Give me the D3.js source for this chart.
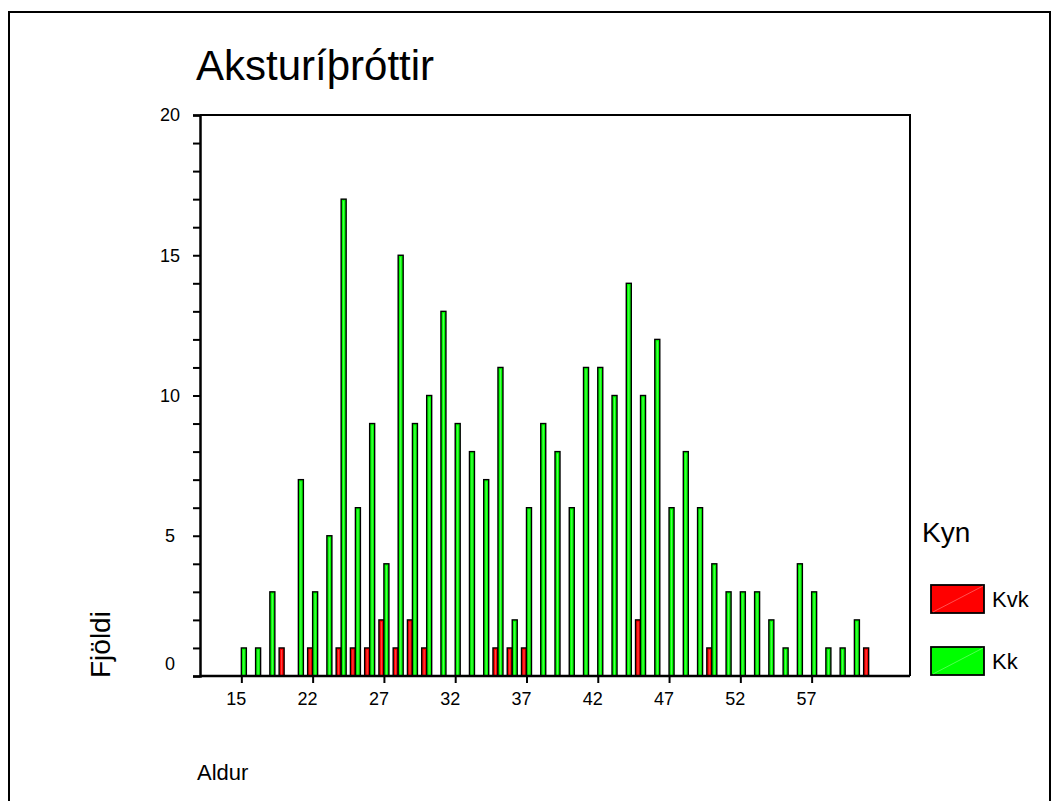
<!DOCTYPE html>
<html>
<head>
<meta charset="utf-8">
<script src="https://cdn.jsdelivr.net/npm/d3@7"></script>
<style>
  html, body { margin: 0; padding: 0; background: #fff; }
  svg { display: block; font-family: "Liberation Sans", Arial, sans-serif; }
</style>
</head>
<body>
<svg id="chart" width="1058" height="801"></svg>
<script>
// Ages (x categories) and counts per sex
const ages = [15, 17, 18, 19, 20,
  22, 23, 24, 25, 26, 27, 28, 29, 30, 31, 32, 33, 34, 35, 36, 37, 38, 39, 40, 41,
  42, 43, 44, 45, 46, 47, 48, 49, 50, 51, 52, 53, 54, 55, 56, 57, 58, 59, 60, 61];
const kvk = [0, 0, 0, 1, 0,
  1, 0, 1, 1, 1, 2, 1, 2, 1, 0, 0, 0, 0, 1, 1, 1, 0, 0, 0, 0,
  0, 0, 0, 2, 0, 0, 0, 0, 1, 0, 0, 0, 0, 0, 0, 0, 0, 0, 0, 1];
const kk = [1, 1, 3, 0, 7,
  3, 5, 17, 6, 9, 4, 15, 9, 10, 13, 9, 8, 7, 11, 2, 6, 9, 8, 6, 11,
  11, 10, 14, 10, 12, 6, 8, 6, 4, 3, 3, 3, 2, 1, 4, 3, 1, 1, 2, 0];
const xTickLabels = [15, 22, 27, 32, 37, 42, 47, 52, 57];
const yTicks = [0, 1, 2, 3, 4, 5, 6, 7, 8, 9, 10, 11, 12, 13, 14, 15, 16, 17, 18, 19, 20];
const yTickLabels = [0, 5, 10, 15, 20];
const seriesNames = ["Kvk", "Kk"];
const seriesColors = ["#ff0000", "#00ff00"];
const highlightColors = ["#ff6a6a", "#7dff7d"];

const svg = d3.select("#chart");

// Outer frame
svg.append("path")
  .attr("d", "M9,801 V12 H1050 V801")
  .attr("fill", "none").attr("stroke", "#000").attr("stroke-width", 2);

const plotLeft = 200, plotRight = 910, plotTop = 115, plotBottom = 676;

const x = d3.scalePoint().domain(ages).range([plotLeft, plotRight]).padding(2.9);
const sub = d3.scaleBand().domain(seriesNames).range([-5, 5]);
const y = d3.scaleLinear().domain([0, 20]).range([plotBottom, plotTop]);

// Title
svg.append("text").attr("x", 196).attr("y", 80)
  .attr("font-size", 42).text("Aksturíþróttir");

// Bars
const rows = [];
ages.forEach((a, i) => {
  [kvk[i], kk[i]].forEach((v, s) => {
    if (v > 0) rows.push({ age: a, s, v });
  });
});

const bars = svg.append("g");
bars.selectAll("rect").data(rows).join("rect")
  .attr("x", d => x(d.age) + sub(seriesNames[d.s]))
  .attr("y", d => y(d.v))
  .attr("width", sub.bandwidth())
  .attr("height", d => y(0) - y(d.v))
  .attr("fill", d => seriesColors[d.s])
  .attr("stroke", "#000").attr("stroke-width", 1.4);
bars.selectAll("line").data(rows).join("line")
  .attr("x1", d => x(d.age) + sub(seriesNames[d.s]) + sub.bandwidth() / 2)
  .attr("x2", d => x(d.age) + sub(seriesNames[d.s]) + sub.bandwidth() / 2)
  .attr("y1", d => y(d.v) + 2).attr("y2", y(0) - 1)
  .attr("stroke", d => highlightColors[d.s]).attr("stroke-width", 0.7);

// Plot frame (top and right)
svg.append("path")
  .attr("d", `M${plotLeft},${plotTop} H${plotRight} V${plotBottom}`)
  .attr("fill", "none").attr("stroke", "#000").attr("stroke-width", 2);

// Y axis
const yAxis = d3.axisLeft(y).tickValues(yTicks).tickSize(7).tickFormat("");
const gy = svg.append("g").attr("transform", `translate(${plotLeft},0)`).call(yAxis);
gy.select(".domain").attr("stroke-width", 2.5);
gy.selectAll(".tick line").attr("stroke-width", 2);
svg.append("g").selectAll("text").data(yTickLabels).join("text")
  .attr("x", 170)
  .attr("y", d => y(d) + (d === 0 ? -12 : 0))
  .attr("dy", "0.35em")
  .attr("text-anchor", "middle")
  .attr("font-size", 18)
  .text(d => d);

// X axis
const xAxis = d3.axisBottom(x).tickValues(xTickLabels).tickSize(7).tickSizeOuter(0).tickFormat("");
const gx = svg.append("g").attr("transform", `translate(0,${plotBottom})`).call(xAxis);
gx.select(".domain").attr("d", `M${plotLeft},0H${plotRight}`).attr("stroke-width", 2.5);
gx.selectAll(".tick line").attr("stroke-width", 2);
svg.append("g").selectAll("text").data(xTickLabels).join("text")
  .attr("x", d => x(d) - 5)
  .attr("y", 705)
  .attr("text-anchor", "middle")
  .attr("font-size", 18)
  .text(d => d);

// Axis titles
svg.append("text").attr("transform", "translate(110,678) rotate(-90)")
  .attr("font-size", 28).text("Fjöldi");
svg.append("text").attr("x", 197).attr("y", 780)
  .attr("font-size", 22).text("Aldur");

// Legend
svg.append("text").attr("x", 922).attr("y", 542).attr("font-size", 28).text("Kyn");
const legY = [585, 647];
seriesNames.forEach((name, s) => {
  const g = svg.append("g");
  g.append("rect").attr("x", 931).attr("y", legY[s]).attr("width", 53).attr("height", 28)
    .attr("fill", seriesColors[s]).attr("stroke", "#000").attr("stroke-width", 1.8);
  g.append("line").attr("x1", 933).attr("y1", legY[s] + 27).attr("x2", 983).attr("y2", legY[s] + 1)
    .attr("stroke", "#fff").attr("stroke-opacity", 0.45).attr("stroke-width", 0.7);
  g.append("text").attr("x", 992).attr("y", legY[s] + 22).attr("font-size", 22).text(name);
});
</script>
</body>
</html>
